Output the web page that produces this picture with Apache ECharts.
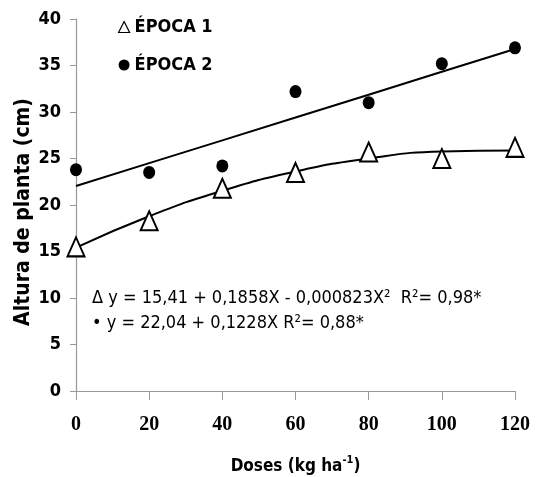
<!DOCTYPE html>
<html><head><meta charset="utf-8">
<script src="https://cdn.jsdelivr.net/npm/echarts@6/dist/echarts.min.js"></script>
<style>html,body{margin:0;padding:0;background:#fff}#c{width:536px;height:477px}</style>
</head><body><div id="c"></div>
<script>
var doses = [0, 20, 40, 60, 80, 100, 120];
var epoca1 = [15.5, 18.3, 21.8, 23.5, 25.7, 25.0, 26.2];
var epoca2 = [23.8, 23.5, 24.2, 32.2, 31.0, 35.2, 36.9];
var fit1 = [15.41, 18.79, 21.53, 23.60, 25.01, 25.76, 25.86];
var fit2 = [22.04, 24.50, 26.95, 29.41, 31.86, 34.32, 36.78];
var yTicks = [0, 5, 10, 15, 20, 25, 30, 35, 40];
var eq1 = 'Δ y = 15,41 + 0,1858X - 0,000823X²  R²= 0,98*';
var eq2 = '• y = 22,04 + 0,1228X R²= 0,88*';
var yName = 'Altura de planta (cm)';

function pairs(xs, ys){ return xs.map(function(x,i){return [x, ys[i]];}); }
var narrow = '"Liberation Sans Narrow", "Arial Narrow", "DejaVu Sans Condensed", sans-serif';
var chart = echarts.init(document.getElementById('c'));
chart.setOption({
  animation: false,
  backgroundColor: '#fff',
  grid: {left: 76, right: 21, top: 19, bottom: 86, outerBoundsMode: 'none', containLabel: false},
  legend: {
    orient: 'vertical', left: 113, top: 13, itemGap: 20,
    itemWidth: 11, itemHeight: 11,
    data: [
      {name: 'ÉPOCA 1', icon: 'triangle', itemStyle: {color: '#fff', borderColor: '#000', borderWidth: 1.2}},
      {name: 'ÉPOCA 2', icon: 'circle', itemStyle: {color: '#000'}}
    ],
    textStyle: {fontFamily: narrow, fontWeight: 'bold', fontSize: 18, color: '#000'}
  },
  xAxis: {
    type: 'value', min: 0, max: 120, interval: 20,
    name: '{a|Doses (kg ha}{s|-1}{a|)}', nameLocation: 'middle', nameGap: 64,
    nameTextStyle: {rich: {
      a: {fontFamily: narrow, fontWeight: 'bold', fontSize: 17, color: '#000', lineHeight: 20, verticalAlign: 'bottom'},
      s: {fontFamily: narrow, fontWeight: 'bold', fontSize: 11, color: '#000', lineHeight: 20, verticalAlign: 'top'}
    }},
    axisLine: {lineStyle: {color: '#999', width: 1.2}},
    axisTick: {show: true, inside: false, length: 9, lineStyle: {color: '#999'}},
    axisLabel: {fontFamily: '"Liberation Serif", "DejaVu Serif", serif', fontWeight: 'bold', fontSize: 20, color: '#000', margin: 24},
    splitLine: {show: false}
  },
  yAxis: {
    type: 'value', min: 0, max: 40, interval: 5,
    axisLine: {show: true, lineStyle: {color: '#999', width: 1.2}},
    axisTick: {show: true, length: 6, lineStyle: {color: '#999'}},
    axisLabel: {fontFamily: narrow, fontWeight: 'bold', fontSize: 18, color: '#000', margin: 15},
    splitLine: {show: false}
  },
  graphic: [
    {type: 'text', x: 24, y: 212, rotation: Math.PI / 2,
     style: {text: yName, fontFamily: narrow, fontWeight: 'bold', fontSize: 21, fill: '#000', align: 'center', verticalAlign: 'middle'}},
    {type: 'text', left: 92, top: 289, style: {text: eq1, fontFamily: narrow, fontSize: 18, fill: '#000'}},
    {type: 'text', left: 92, top: 314, style: {text: eq2, fontFamily: narrow, fontSize: 18, fill: '#000'}}
  ],
  series: [
    {name: 'fit1', type: 'line', data: pairs(doses, fit1), smooth: true, symbol: 'none', lineStyle: {color: '#000', width: 2}, z: 2},
    {name: 'fit2', type: 'line', data: pairs(doses, fit2), smooth: false, symbol: 'none', lineStyle: {color: '#000', width: 2}, z: 2},
    {name: 'ÉPOCA 1', type: 'scatter', data: pairs(doses, epoca1), symbol: 'triangle', symbolSize: [17, 19],
     itemStyle: {color: '#fff', borderColor: '#000', borderWidth: 2, opacity: 1}, z: 3},
    {name: 'ÉPOCA 2', type: 'scatter', data: pairs(doses, epoca2), symbol: 'circle', symbolSize: [12, 13],
     itemStyle: {color: '#000', opacity: 1}, z: 3}
  ]
});
</script></body></html>
